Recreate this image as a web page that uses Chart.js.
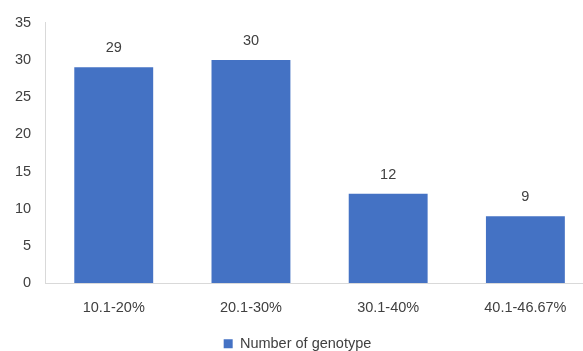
<!DOCTYPE html>
<html>
<head>
<meta charset="utf-8">
<script src="https://cdn.jsdelivr.net/npm/chart.js@4/dist/chart.umd.min.js"></script>
<style>
  html, body { margin: 0; padding: 0; background: #fff; overflow: hidden; }
  #wrap { position: absolute; left: 0; top: 0; width: 583px; height: 351px; overflow: hidden; }
  canvas { position: absolute; left: 0; top: 0; }
</style>
</head>
<body>
<div id="wrap"><canvas id="chartLite" width="594" height="361"></canvas></div>
<script>
const categories = ['10.1-20%', '20.1-30%', '30.1-40%', '40.1-46.67%'];
const genotypeCounts = [29, 30, 12, 9];
const yTicks = [0, 5, 10, 15, 20, 25, 30, 35];

Chart.defaults.font.family = '"Liberation Sans", Arial, sans-serif';
Chart.defaults.font.size = 14.5;
Chart.defaults.color = '#404040';

// draw the value over each bar
const barValues = {
    id: 'barValues',
    afterDatasetsDraw(chart) {
        const c = chart.ctx;
        c.save();
        c.font = '14.5px "Liberation Sans", Arial, sans-serif';
        c.fillStyle = '#404040';
        c.textAlign = 'center';
        c.textBaseline = 'middle';
        chart.getDatasetMeta(0).data.forEach((bar, i) => {
            c.fillText(String(chart.data.datasets[0].data[i]), bar.x, bar.y - 19);
        });
        c.restore();
    }
};

const ctx = document.getElementById('chartLite').getContext('2d');
const myChart = new Chart(ctx, {
    type: 'bar',
    data: {
        labels: categories,
        datasets: [{
            label: 'Number of genotype',
            data: genotypeCounts,
            backgroundColor: '#4472C4',
            borderWidth: 0,
            barPercentage: 0.575,
            categoryPercentage: 1
        }]
    },
    options: {
        responsive: false,
        animation: false,
        layout: { padding: { left: 1, right: 0, top: 12, bottom: 0 } },
        scales: {
            x: {
                grid: { display: false, drawTicks: false },
                border: { display: true, color: '#d9d9d9', width: 1 },
                ticks: { padding: 16, color: '#404040' }
            },
            y: {
                min: 0,
                max: 35,
                afterBuildTicks: (axis) => { axis.ticks = yTicks.map(v => ({ value: v })); },
                grid: { display: false, drawTicks: false },
                border: { display: true, color: '#d9d9d9', width: 1 },
                ticks: { padding: 14, color: '#404040' }
            }
        },
        plugins: {
            legend: {
                position: 'bottom',
                labels: { boxWidth: 9, boxHeight: 9, padding: 4, color: '#404040' }
            },
            tooltip: { enabled: false }
        }
    },
    plugins: [barValues]
});
</script>
</body>
</html>
